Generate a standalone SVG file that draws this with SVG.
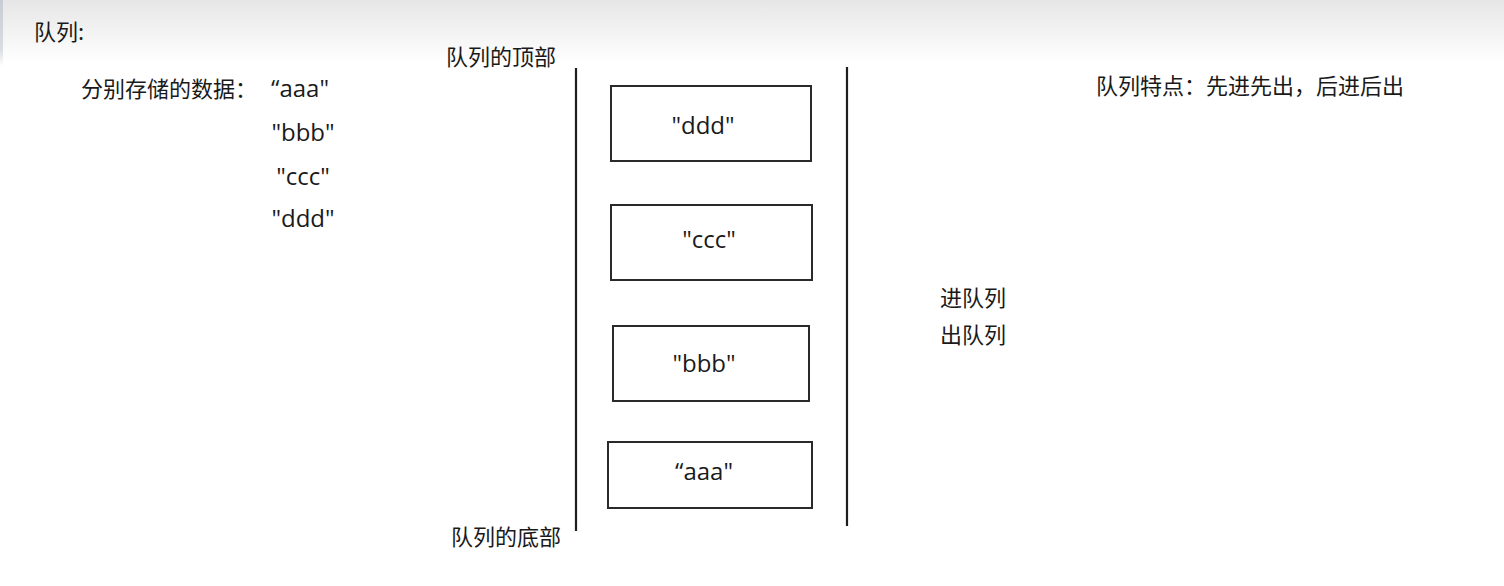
<svg xmlns="http://www.w3.org/2000/svg" width="1504" height="586" viewBox="0 0 1504 586">
<defs>
<linearGradient id="bg" x1="0" y1="0" x2="0" y2="1">
<stop offset="0" stop-color="#e6e6e6"/>
<stop offset="1" stop-color="#ffffff"/>
</linearGradient>
<linearGradient id="edge" x1="0" y1="0" x2="0" y2="1">
<stop offset="0" stop-color="#c8ccd4"/>
<stop offset="0.75" stop-color="#dadde2"/>
<stop offset="1" stop-color="#ffffff"/>
</linearGradient>
<style>
.cjk{font-family:"Noto Sans CJK SC","Microsoft YaHei",sans-serif;font-size:22px;fill:#1a1a1a}
.lat{font-family:"Open Sans","Noto Sans CJK SC",sans-serif;font-size:24px;fill:#1a1a1a}
.box{fill:#ffffff;stroke:#2a2a2a;stroke-width:2}
.wall{stroke:#1e1e1e;stroke-width:2.2}
</style>
</defs>
<rect x="0" y="0" width="1504" height="586" fill="#ffffff"/>
<rect x="0" y="0" width="1504" height="62" fill="url(#bg)"/>
<rect x="0" y="0" width="3" height="66" fill="url(#edge)"/>

<g id="title"><text class="cjk" x="34" y="40">队列:</text></g>
<g id="data-label"><text class="cjk" x="81" y="97">分别存储的数据：</text></g>
<g id="data-values">
<text class="lat" x="300" y="97" text-anchor="middle">“aaa"</text>
<text class="lat" x="303" y="141" text-anchor="middle">"bbb"</text>
<text class="lat" x="303" y="185" text-anchor="middle">"ccc"</text>
<text class="lat" x="303" y="227" text-anchor="middle">"ddd"</text>
</g>
<g id="top-label"><text class="cjk" x="446" y="65">队列的顶部</text></g>
<g id="bottom-label"><text class="cjk" x="451" y="545">队列的底部</text></g>
<g id="feature"><text class="cjk" x="1096" y="94">队列特点：先进先出，后进后出</text></g>
<g id="enqueue"><text class="cjk" x="940" y="306">进队列</text></g>
<g id="dequeue"><text class="cjk" x="940" y="343">出队列</text></g>

<g id="connectors">
<line class="wall" x1="576" y1="68" x2="576" y2="531"/>
<line class="wall" x1="847" y1="67" x2="847" y2="526"/>
</g>

<g id="node-ddd">
<rect class="box" x="611" y="86" width="200" height="75"/>
<text class="lat" x="703" y="134" text-anchor="middle">"ddd"</text>
</g>
<g id="node-ccc">
<rect class="box" x="611" y="205" width="201" height="75"/>
<text class="lat" x="709" y="248" text-anchor="middle">"ccc"</text>
</g>
<g id="node-bbb">
<rect class="box" x="613" y="326" width="196" height="75"/>
<text class="lat" x="704" y="372" text-anchor="middle">"bbb"</text>
</g>
<g id="node-aaa">
<rect class="box" x="608" y="442" width="204" height="66"/>
<text class="lat" x="704" y="480" text-anchor="middle">“aaa"</text>
</g>
</svg>
